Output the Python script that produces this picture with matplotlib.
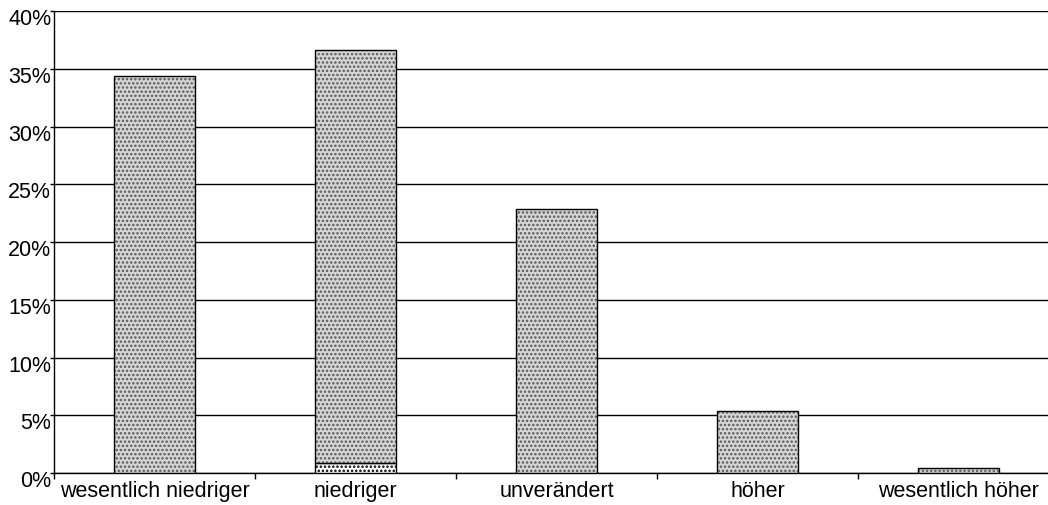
import matplotlib
matplotlib.use("Agg")
import matplotlib.pyplot as plt
import matplotlib.transforms as mtransforms
import numpy as np

plt.rcParams['font.family'] = ['Liberation Sans', 'DejaVu Sans']
plt.rcParams['hatch.linewidth'] = 1.2

categories = ["wesentlich niedriger", "niedriger", "unverändert", "höher", "wesentlich höher"]
bottom_series = [0.0, 0.9, 0.0, 0.0, 0.0]
top_series = [34.4, 35.7, 22.9, 5.4, 0.4]
yticks = [0, 5, 10, 15, 20, 25, 30, 35, 40]
ytick_labels = ["0%", "5%", "10%", "15%", "20%", "25%", "30%", "35%", "40%"]

fig = plt.figure(figsize=(10.48, 5.06), dpi=100)
ax = fig.add_axes([54/1048, 1-474/506, (1059-54)/1048, (474-12)/506])

x = np.arange(len(categories))
w = 0.4
plt.rcParams['hatch.color'] = 'black'
ax.bar(x, bottom_series, width=w, color='white', edgecolor='black',
       hatch='....', linewidth=1.0, zorder=3)
b = ax.bar(x, top_series, width=w, bottom=bottom_series, color='#d6d6d6',
           edgecolor='black', linewidth=1.0, zorder=3)
for r in b:
    r.set_hatch('....')
    r._hatch_color = (0.35, 0.35, 0.35, 1.0)

ax.set_xlim(-0.5, len(categories) - 0.5)
ax.set_ylim(0, 40)
ax.set_yticks(yticks)
ax.set_yticklabels(ytick_labels, fontsize=15.5)
ax.yaxis.grid(True, color='black', linewidth=1.0, zorder=0)
ax.set_axisbelow(True)

ax.set_xticks(np.arange(len(categories) + 1) - 0.5, minor=False)
ax.set_xticklabels([])
ax.set_xticks(x, minor=True)
ax.set_xticklabels(categories, minor=True, fontsize=15.5)
ax.tick_params(axis='x', which='minor', length=0, pad=5)
ax.tick_params(axis='x', which='major', length=4, width=1, direction='out')
ax.tick_params(axis='y', length=3, width=1, direction='out', pad=-1)

offset = mtransforms.ScaledTranslation(0, -5/100, fig.dpi_scale_trans)
for lbl in ax.get_yticklabels():
    lbl.set_transform(lbl.get_transform() + offset)

for s in ['top', 'right']:
    ax.spines[s].set_visible(False)
ax.spines['left'].set_linewidth(1.0)
ax.spines['bottom'].set_linewidth(1.0)

fig.savefig("out.png", dpi=100)
